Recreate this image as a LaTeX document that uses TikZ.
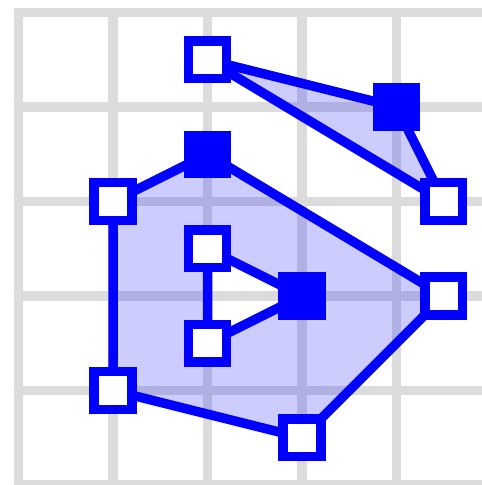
\documentclass[tikz,border=0pt]{standalone}
\usepackage{tikz}
\usetikzlibrary{backgrounds}

\definecolor{gridgray}{RGB}{220,220,220}

\begin{document}
\begin{tikzpicture}[
    x=1cm, y=-1cm,
    gridline/.style={draw=gridgray, line width=0.1cm},
    region/.style={draw=blue, line width=0.1cm, line join=round, fill=blue, fill opacity=0.2, even odd rule},
    point/.style={rectangle, minimum size=0.4cm, inner sep=0pt, draw=blue, line width=0.1cm, fill=white},
    ctrl/.style={rectangle, minimum size=0.5cm, inner sep=0pt, fill=blue}
]
\useasboundingbox (-0.196,-0.132) rectangle (4.894,5.0);

\node (a1) [point] at (2,0.5) {};
\node (a2) [ctrl] at (4,1) {};
\node (a3) [point] at (4.5,2) {};

\node (b1) [point] at (1,2) {};
\node (b2) [ctrl] at (2,1.5) {};
\node (b3) [point] at (4.5,3) {};
\node (b4) [point] at (3,4.5) {};
\node (b5) [point] at (1,4) {};

\node (c1) [point] at (2,2.5) {};
\node (c2) [ctrl] at (3,3) {};
\node (c3) [point] at (2,3.5) {};

\begin{pgfonlayer}{background}
\foreach \i in {0,...,4}
    \draw [gridline] (\i,-0.05) -- (\i,5.1);
\foreach \j in {0,...,5}
    \draw [gridline] (-0.05,\j) -- (5,\j);

\draw [region] (a1.center) -- (a2.center) -- (a3.center) -- cycle;
\draw [region] (b1.center) -- (b2.center) -- (b3.center) -- (b4.center) -- (b5.center) -- cycle
    (c1.center) -- (c2.center) -- (c3.center) -- cycle;
\end{pgfonlayer}

\end{tikzpicture}
\end{document}
